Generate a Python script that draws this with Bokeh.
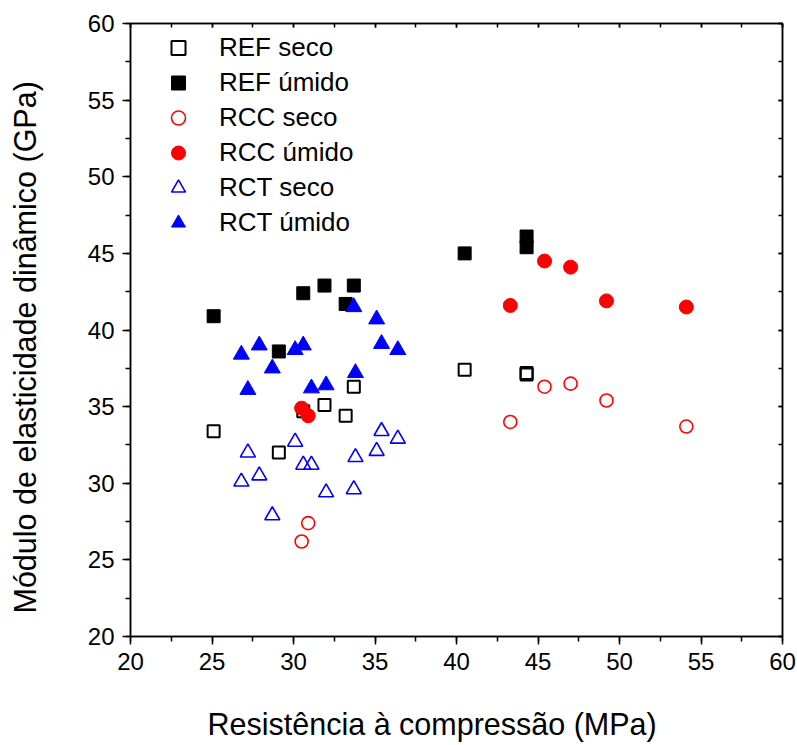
from bokeh.plotting import figure
from bokeh.models import (SingleIntervalTicker, FixedTicker, LinearAxis, Range1d,
                          CustomJSTickFormatter, Title)
from bokeh.embed import file_html
from bokeh.resources import INLINE

# Data (compressive strength MPa, dynamic modulus GPa)
ref_x = [25.1, 29.1, 30.6, 31.9, 33.2, 33.7, 40.5, 44.3, 44.3]
ref_seco = [33.4, 32.0, 34.7, 35.1, 34.4, 36.3, 37.4, 37.1, 37.2]
ref_umido = [40.9, 38.6, 42.4, 42.9, 41.7, 42.9, 45.0, 46.1, 45.4]

rcc_x = [30.5, 30.9, 43.3, 45.4, 47.0, 49.2, 54.1]
rcc_seco = [26.2, 27.4, 34.0, 36.3, 36.5, 35.4, 33.7]
rcc_umido = [34.9, 34.4, 41.6, 44.5, 44.1, 41.9, 41.5]

rct_x = [26.8, 27.2, 27.9, 28.7, 30.1, 30.6, 31.1, 32.0, 33.7, 33.8, 35.1, 35.4, 36.4]
rct_seco = [30.1, 32.0, 30.5, 27.9, 32.7, 31.2, 31.2, 29.4, 29.6, 31.7, 32.1, 33.4, 32.9]
rct_umido = [38.4, 36.1, 39.0, 37.5, 38.7, 39.0, 36.2, 36.4, 41.5, 37.2, 40.7, 39.1, 38.7]

x_label = "Resistência à compressão (MPa)"
y_label = "Módulo de elasticidade dinâmico (GPa)"

FONT = "Liberation Sans"

p = figure(width=797, height=745, output_backend="svg", toolbar_location=None,
           x_range=Range1d(20, 60), y_range=Range1d(20, 60),
           min_border_left=130, min_border_right=15, min_border_top=23, min_border_bottom=109)

p.grid.visible = False
p.outline_line_color = "black"
p.outline_line_width = 1.5
p.background_fill_color = "white"
p.border_fill_color = "white"

for ax in (p.xaxis[0], p.yaxis[0]):
    ax.ticker = SingleIntervalTicker(interval=5, num_minor_ticks=2)
    ax.axis_line_width = 1.5
    ax.major_tick_line_width = 1.5
    ax.minor_tick_line_width = 1.5
    ax.major_tick_out = 8
    ax.major_tick_in = 0
    ax.minor_tick_out = 5
    ax.minor_tick_in = 0
    ax.major_label_text_font = FONT
    ax.major_label_text_font_size = "24px"
    ax.major_label_text_color = "black"
    ax.major_label_standoff = 8


def spacer(size):
    # invisible axis (one hidden tick) used only to push the axis title outward
    return LinearAxis(ticker=FixedTicker(ticks=[40], minor_ticks=[]),
                      formatter=CustomJSTickFormatter(code="return ''"),
                      axis_line_color=None,
                      major_tick_line_color=None, minor_tick_line_color=None,
                      major_tick_out=size, minor_tick_out=0, major_tick_in=0,
                      minor_tick_in=0, major_label_standoff=0)


p.add_layout(spacer(32), "below")
p.add_layout(Title(text=x_label, align="left", offset=77, standoff=0,
                   text_font=FONT, text_font_size="30.5px", text_font_style="normal",
                   text_color="black"), "below")
p.add_layout(spacer(43), "left")
p.add_layout(Title(text=y_label, align="left", offset=23, standoff=0,
                   text_font=FONT, text_font_size="30.5px", text_font_style="normal",
                   text_color="black"), "left")

# Top and right frame axes with small inward ticks, no labels
for loc in ("above", "right"):
    ax = LinearAxis(ticker=SingleIntervalTicker(interval=5, num_minor_ticks=2),
                    formatter=CustomJSTickFormatter(code="return ''"))
    ax.major_label_standoff = 0
    ax.axis_line_width = 1.5
    ax.major_tick_line_width = 1.5
    ax.minor_tick_line_width = 1.5
    ax.major_tick_in = 4
    ax.major_tick_out = 0
    ax.minor_tick_in = 4
    ax.minor_tick_out = 0
    p.add_layout(ax, loc)

p.scatter(ref_x, ref_seco, marker="square", size=12, fill_color="white", fill_alpha=0,
          line_color="black", line_width=2, legend_label="REF seco")
p.scatter(ref_x, ref_umido, marker="square", size=13, fill_color="black",
          line_color="black", line_width=1, legend_label="REF úmido")
p.scatter(rcc_x, rcc_seco, marker="circle", size=13, fill_color="white", fill_alpha=0,
          line_color="red", line_width=1.6, legend_label="RCC seco")
p.scatter(rcc_x, rcc_umido, marker="circle", size=14, fill_color="red",
          line_color="red", line_width=1, legend_label="RCC úmido")
p.scatter(rct_x, rct_seco, marker="triangle", size=15, fill_color="white", fill_alpha=0,
          line_color="blue", line_width=1.6, legend_label="RCT seco")
p.scatter(rct_x, rct_umido, marker="triangle", size=16, fill_color="blue",
          line_color="blue", line_width=1, legend_label="RCT úmido")

lg = p.legend[0]
lg.location = "top_left"
lg.margin = 7
lg.padding = 0
lg.spacing = 0
lg.label_height = 35
lg.glyph_height = 35
lg.glyph_width = 82
lg.label_standoff = 0
lg.border_line_color = None
lg.background_fill_alpha = 0
lg.label_text_font = FONT
lg.label_text_font_size = "26px"
lg.label_text_color = "black"

open("out.html", "w").write(file_html(p, INLINE))
